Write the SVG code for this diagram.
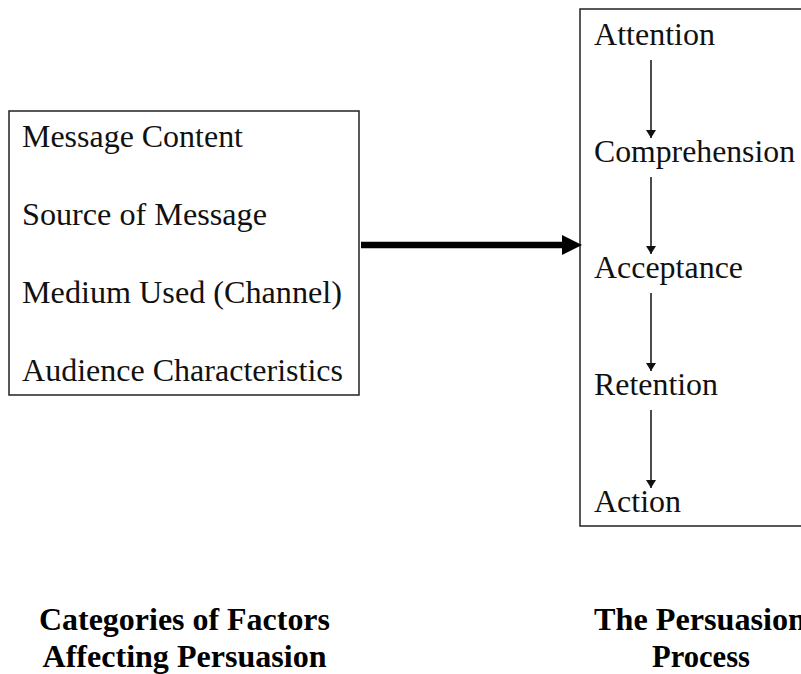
<svg xmlns="http://www.w3.org/2000/svg" width="801" height="674" viewBox="0 0 801 674">
  <style>
    .box { fill: #ffffff; stroke: #222222; stroke-width: 1.5; }
    .t { font-family: 'Liberation Serif', 'Times New Roman', serif; font-size: 31px; fill: #111111; }
    .b { font-family: 'Liberation Serif', 'Times New Roman', serif; font-size: 31px; font-weight: bold; fill: #000000; }
    .thin { stroke: #111111; stroke-width: 1.5; fill: none; }
    .thick { stroke: #000000; stroke-width: 6.5; fill: none; }
  </style>
  <defs>
    <marker id="ah" viewBox="0 0 8 10" refX="8" refY="5" markerWidth="8" markerHeight="10" markerUnits="userSpaceOnUse" orient="auto">
      <path d="M0,0 L8,5 L0,10 Z" fill="#111111"/>
    </marker>
  </defs>
  <rect width="801" height="674" fill="#ffffff"/>

  <g id="factors">
    <rect class="box" x="9" y="111" width="350" height="284"/>
    <text class="t" x="22" y="147" textLength="221" lengthAdjust="spacingAndGlyphs">Message Content</text>
    <text class="t" x="22" y="225" textLength="245" lengthAdjust="spacingAndGlyphs">Source of Message</text>
    <text class="t" x="22" y="303" textLength="320" lengthAdjust="spacingAndGlyphs">Medium Used (Channel)</text>
    <text class="t" x="22" y="381" textLength="321" lengthAdjust="spacingAndGlyphs">Audience Characteristics</text>
  </g>

  <g id="process">
    <rect class="box" x="580" y="9" width="240" height="517"/>
    <g id="attention"><text class="t" x="594" y="45" textLength="121" lengthAdjust="spacingAndGlyphs">Attention</text></g>
    <g id="comprehension"><text class="t" x="594" y="162" textLength="201" lengthAdjust="spacingAndGlyphs">Comprehension</text></g>
    <g id="acceptance"><text class="t" x="594" y="278" textLength="149" lengthAdjust="spacingAndGlyphs">Acceptance</text></g>
    <g id="retention"><text class="t" x="594" y="395" textLength="124" lengthAdjust="spacingAndGlyphs">Retention</text></g>
    <g id="action"><text class="t" x="594" y="512" textLength="87" lengthAdjust="spacingAndGlyphs">Action</text></g>
  </g>

  <g id="connectors">
    <line class="thick" x1="361" y1="245" x2="565" y2="245"/>
    <path d="M562,235 L582,245 L562,255 Z" fill="#000000"/>
    <line class="thin" x1="651" y1="60" x2="651" y2="138" marker-end="url(#ah)"/>
    <line class="thin" x1="651" y1="177" x2="651" y2="254" marker-end="url(#ah)"/>
    <line class="thin" x1="651" y1="293" x2="651" y2="371" marker-end="url(#ah)"/>
    <line class="thin" x1="651" y1="410" x2="651" y2="488" marker-end="url(#ah)"/>
  </g>

  <g id="label-factors">
    <text class="b" x="184.5" y="630" text-anchor="middle" textLength="291" lengthAdjust="spacingAndGlyphs">Categories of Factors</text>
    <text class="b" x="184.5" y="667" text-anchor="middle" textLength="284" lengthAdjust="spacingAndGlyphs">Affecting Persuasion</text>
  </g>
  <g id="label-process">
    <text class="b" x="594" y="630" textLength="212" lengthAdjust="spacingAndGlyphs">The Persuasion</text>
    <text class="b" x="701" y="667" text-anchor="middle" textLength="98" lengthAdjust="spacingAndGlyphs">Process</text>
  </g>
</svg>
